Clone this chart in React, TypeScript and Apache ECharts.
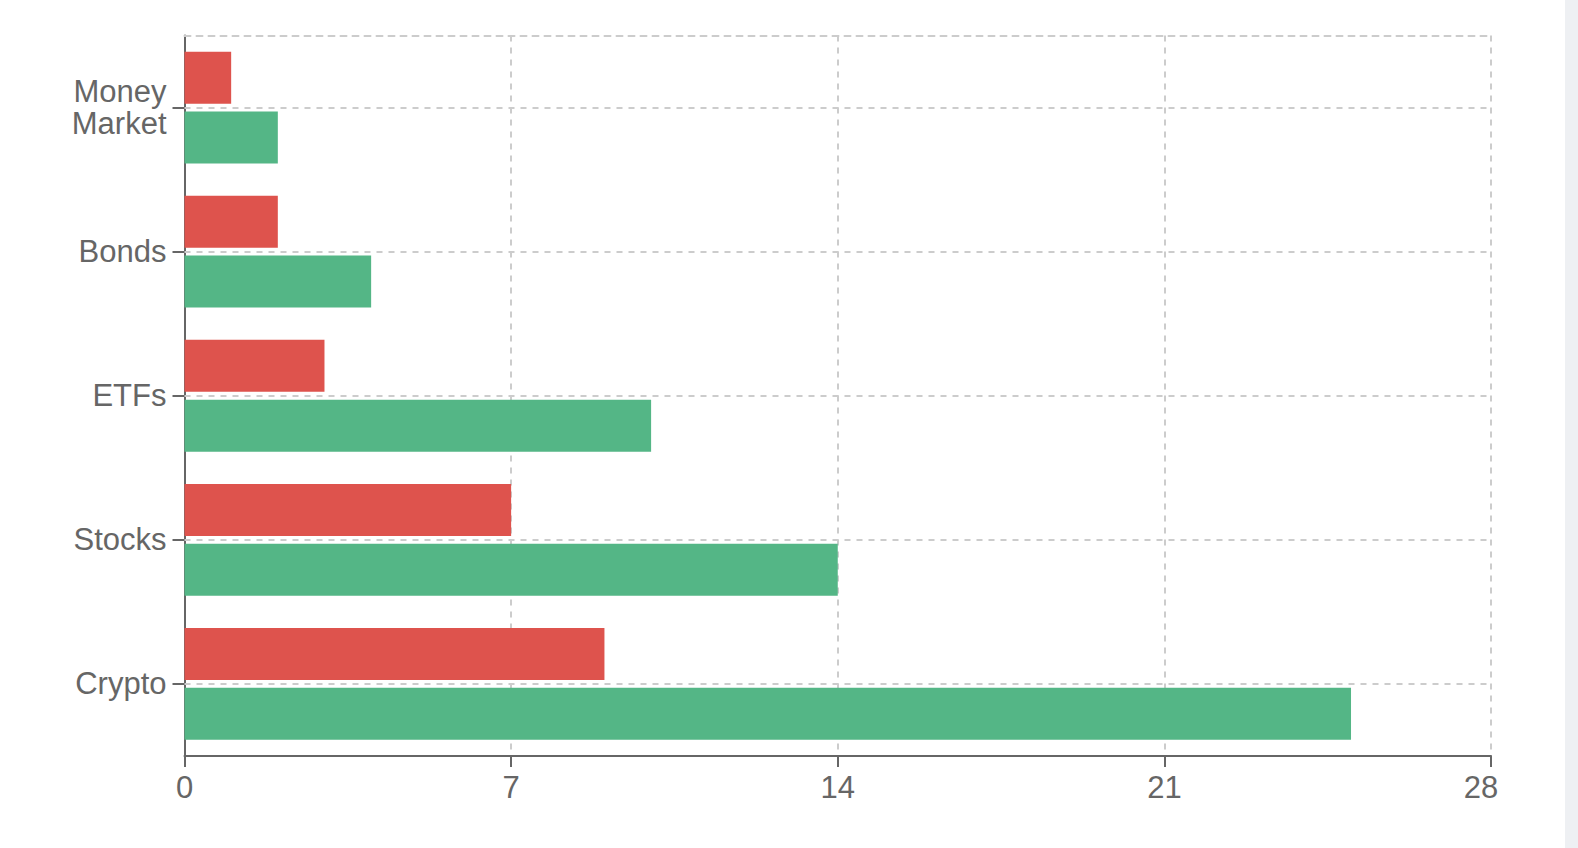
import React, { useEffect, useRef } from "react";
import * as echarts from "echarts";

const categories = ["Crypto", "Stocks", "ETFs", "Bonds", "Money Market"];
const redValues = [9, 7, 3, 2, 1];
const greenValues = [25, 14, 10, 4, 2];
const xTicks = [0, 7, 14, 21, 28];

const FONT = "'Liberation Sans', Arial, sans-serif";
const AXIS = "#666666";
const GRID = "#cccccc";

export default function App() {
  const ref = useRef<HTMLDivElement>(null);

  useEffect(() => {
    if (!ref.current) return;
    const chart = echarts.init(ref.current, undefined, { renderer: "svg" });
    const xMax = xTicks[xTicks.length - 1];
    const interval = xTicks[1] - xTicks[0];
    chart.setOption({
      animation: false,
      textStyle: { fontFamily: FONT },
      grid: { left: 184.5, top: 35.5, right: 1565 - 1491, bottom: 848 - 756 },
      xAxis: [
        {
          type: "value",
          min: xTicks[0],
          max: xMax,
          interval,
          axisLine: { show: true, lineStyle: { color: AXIS, width: 2 } },
          axisTick: { show: true, length: 11, lineStyle: { color: AXIS, width: 2 } },
          axisLabel: {
            color: AXIS,
            fontSize: 31,
            fontFamily: FONT,
            margin: 16,
            formatter: (v: number) => (v === xMax ? `{r|${v}}` : `${v}`),
            rich: {
              r: { fontSize: 31, color: AXIS, fontFamily: FONT, padding: [0, 20, 0, 0] },
            },
          },
          splitLine: { show: true, lineStyle: { color: GRID, width: 2, type: [6, 6] } },
        },
        {
          type: "value",
          position: "top",
          min: xTicks[0],
          max: xMax,
          interval,
          axisLine: { show: true, lineStyle: { color: GRID, width: 2, type: [6, 6] } },
          axisTick: { show: false },
          axisLabel: { show: false },
          splitLine: { show: false },
        },
      ],
      yAxis: {
        type: "category",
        data: categories,
        axisLine: { show: true, lineStyle: { color: AXIS, width: 2 } },
        axisTick: { show: true, alignWithLabel: true, length: 12, lineStyle: { color: AXIS, width: 2 } },
        axisLabel: {
          color: AXIS,
          fontSize: 31,
          fontFamily: FONT,
          margin: 18,
          lineHeight: 32,
          padding: [5, 0, 0, 0],
          formatter: (v: string) => v.replace(" ", "\n"),
        },
        splitLine: { show: false },
      },
      series: [
        {
          type: "line",
          name: "grid",
          data: [],
          silent: true,
          markLine: {
            silent: true,
            symbol: ["none", "none"],
            z: 1,
            label: { show: false },
            lineStyle: { color: GRID, width: 2, type: [6, 6] },
            data: categories.map((c) => ({ yAxis: c })),
          },
        },
        {
          type: "bar",
          name: "red",
          data: redValues,
          barWidth: 52,
          barGap: "15%",
          z: 3,
          itemStyle: { color: "#de534d" },
        },
        {
          type: "bar",
          name: "green",
          data: greenValues,
          barWidth: 52,
          barGap: "15%",
          z: 3,
          itemStyle: { color: "#54b686" },
        },
      ],
    });
    return () => chart.dispose();
  }, []);

  return (
    <div
      style={{
        position: "absolute",
        left: 0,
        top: 0,
        width: 1578,
        height: 848,
        background: "#ffffff",
        overflow: "hidden",
      }}
    >
      <div ref={ref} style={{ position: "absolute", left: 0, top: 0, width: 1565, height: 848 }} />
      <div
        style={{
          position: "absolute",
          left: 1565,
          top: 0,
          width: 13,
          height: 848,
          background: "#eef0f3",
        }}
      />
    </div>
  );
}
